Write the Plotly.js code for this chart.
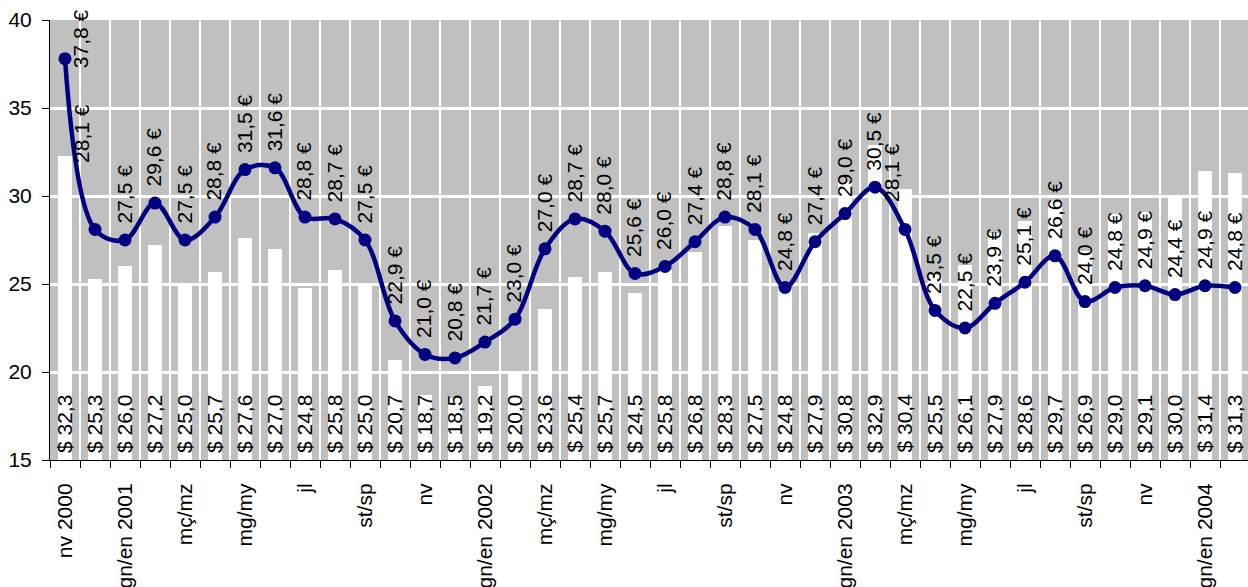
<!DOCTYPE html>
<html>
<head>
<meta charset="utf-8">
<script src="https://cdn.plot.ly/plotly-3.0.1.min.js"></script>
<style>
  html, body { margin: 0; padding: 0; background: #fff; }
  #chart { width: 1248px; height: 587px; }
</style>
</head>
<body>
<div id="chart"></div>
<script>
// Months Nov 2000 .. Feb 2004
var categories = ["nv 2000","ds/dc","gn/en 2001","fb","mç/mz","ab/ap","mg/my","jn","jl","ag","st/sp","oc","nv","ds/dc",
  "gn/en 2002","fb","mç/mz","ab/ap","mg/my","jn","jl","ag","st/sp","oc","nv","ds/dc",
  "gn/en 2003","fb","mç/mz","ab/ap","mg/my","jn","jl","ag","st/sp","oc","nv","ds/dc",
  "gn/en 2004","fb"];

// Tick labels shown on the axis (every second month)
var tickLabels = ["nv 2000","gn/en 2001","mç/mz","mg/my","jl","st/sp","nv","gn/en 2002","mç/mz","mg/my",
  "jl","st/sp","nv","gn/en 2003","mç/mz","mg/my","jl","st/sp","nv","gn/en 2004"];

// Price in euro (line)
var euroValues = [37.8,28.1,27.5,29.6,27.5,28.8,31.5,31.6,28.8,28.7,27.5,22.9,21.0,20.8,21.7,23.0,27.0,28.7,28.0,25.6,
  26.0,27.4,28.8,28.1,24.8,27.4,29.0,30.5,28.1,23.5,22.5,23.9,25.1,26.6,24.0,24.8,24.9,24.4,24.9,24.8];

// Price in dollar (bars)
var dollarValues = [32.3,25.3,26.0,27.2,25.0,25.7,27.6,27.0,24.8,25.8,25.0,20.7,18.7,18.5,19.2,20.0,23.6,25.4,25.7,24.5,
  25.8,26.8,28.3,27.5,24.8,27.9,30.8,32.9,30.4,25.5,26.1,27.9,28.6,29.7,26.9,29.0,29.1,30.0,31.4,31.3];

var xIdx = categories.map(function (_, i) { return i; });
var tickIdx = tickLabels.map(function (_, i) { return i * 2; });

// label placement tweaks (pixels), by category index
var euroLabelShift = { 0: [16, -26], 1: [-12, 50], 28: [-12, 11] };

function fmt(v) { return v.toFixed(1).replace('.', ','); }

var FONT = 'Liberation Sans, Arial, sans-serif';

var bars = {
  type: 'bar', x: xIdx, y: dollarValues, base: 0,
  width: 0.46,
  marker: { color: '#ffffff', line: { width: 0 } },
  hoverinfo: 'skip', showlegend: false
};

var line = {
  type: 'scatter', mode: 'lines+markers', x: xIdx, y: euroValues,
  line: { color: '#000080', width: 4.5, shape: 'spline', smoothing: 1 },
  marker: { color: '#000080', size: 13 },
  hoverinfo: 'skip', showlegend: false, cliponaxis: false
};

var annotations = [];
xIdx.forEach(function (i) {
  var s = euroLabelShift[i] || [0, 0];
  annotations.push({
    x: i, y: euroValues[i], xref: 'x', yref: 'y',
    text: fmt(euroValues[i]) + ' €', showarrow: false, textangle: -90,
    xanchor: 'center', yanchor: 'bottom',
    xshift: -1 + s[0], yshift: 14 + s[1],
    font: { family: FONT, size: 21, color: '#000' }
  });
  annotations.push({
    x: i, y: 15, xref: 'x', yref: 'y',
    text: '$ ' + fmt(dollarValues[i]), showarrow: false, textangle: -90,
    xanchor: 'center', yanchor: 'bottom',
    xshift: -1, yshift: 5,
    font: { family: FONT, size: 21, color: '#000' }
  });
});

var layout = {
  width: 1248, height: 587,
  margin: { l: 50, r: 0, t: 20, b: 127, pad: 0 },
  paper_bgcolor: '#ffffff', plot_bgcolor: '#c0c0c0',
  font: { family: FONT, size: 21, color: '#000' },
  bargap: 0,
  xaxis: {
    type: 'linear', range: [-0.5, 39.433],
    tickmode: 'array', tickvals: tickIdx, ticktext: tickLabels,
    tickangle: -90, ticks: '', showgrid: false, zeroline: false,
    showline: true, linecolor: '#000', linewidth: 1,
    ticklabelstandoff: 14,
    tickfont: { family: FONT, size: 21, color: '#000' },
    minor: { tick0: -0.5, dtick: 1, ticks: 'outside', ticklen: 7, tickcolor: '#000', tickwidth: 1,
             showgrid: true, gridcolor: '#ffffff', gridwidth: 2.5 }
  },
  yaxis: {
    range: [15, 40], tick0: 15, dtick: 5,
    ticks: 'outside', ticklen: 7, tickcolor: '#000', tickwidth: 1,
    showgrid: true, gridcolor: '#ffffff', gridwidth: 3, zeroline: false,
    showline: true, linecolor: '#000', linewidth: 1,
    ticklabelstandoff: 6,
    tickfont: { family: FONT, size: 21, color: '#000' }
  },
  annotations: annotations
};

Plotly.newPlot('chart', [bars, line], layout, { staticPlot: true, displayModeBar: false });
</script>
</body>
</html>
